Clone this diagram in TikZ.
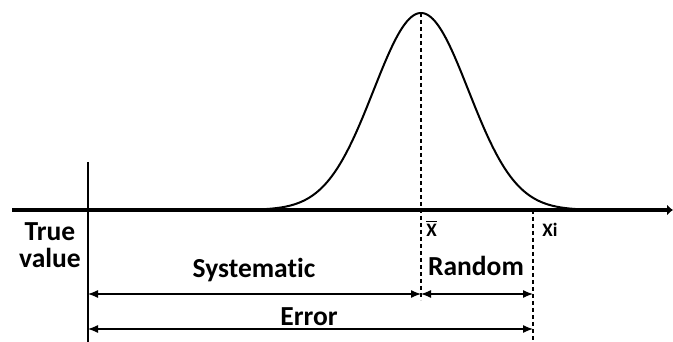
\documentclass[tikz,border=0pt]{standalone}
\usepackage{fontspec}
\setmainfont{Carlito}[Ligatures=NoCommon]
\usetikzlibrary{arrows.meta}
\newcommand\xbarlabel{\leavevmode\vbox{\hrule height 1.8pt\kern2.2pt\hbox{X}}}
\begin{document}
\begin{tikzpicture}[x=1pt, y=-1pt, line join=round, >={Latex[length=10pt,width=8pt]},
	lbl/.style={font=\fontsize{27.5}{27}\selectfont\bfseries, inner sep=0pt},
	small/.style={font=\fontsize{19}{19}\selectfont\bfseries, inner sep=0pt},
	guide/.style={line width=1.2pt, dash pattern=on 4pt off 3pt}]
	\useasboundingbox (0,0) rectangle (673,342);
	\path
	(12,210) coordinate (L)
	(673,210) coordinate (R)
	(88,162) coordinate (T0)
	(88,342) coordinate (T1)
	(421,13) coordinate (M0)
	(421,300) coordinate (M1)
	(533,210) coordinate (X0)
	(533,342) coordinate (X1)
	(88,294) coordinate (S0)
	(421,294) coordinate (S1)
	(533,294) coordinate (S2)
	(88,329) coordinate (E0)
	(533,329) coordinate (E1)
	;
	% curve and axis
	\draw[line width=2pt, domain=250:592, samples=160] plot (\x,{210-197*exp(-((\x-421)/47.5)^2/2)});
	\draw[line width=3.5pt, -{Latex[length=6pt,width=11pt]}] (L)--(R);
	\draw[line width=1.2pt] (T0)--(T1);
	\draw[guide] (M0)--(M1) (X0)--(X1);
	% error arrows
	\draw[line width=1.2pt, <->] (S0)--(S1);
	\draw[line width=1.2pt, <->] (S1)--(S2);
	\draw[line width=1.2pt, <->] (E0)--(E1);
	\node[lbl, align=center] (truevalue) at (50,245) {True\\value};
	\foreach \n/\x/\y/\t in {systematic/254/277/Systematic, random/476/276/Random, error/309/325/Error}
	\node[lbl, anchor=base] (\n) at (\x,\y) {\t};
	\node[small, anchor=base] (xbar) at (431.5,237) {\xbarlabel};
	\node[small, anchor=base] (xi) at (550,237) {Xi};
\end{tikzpicture}
\end{document}
